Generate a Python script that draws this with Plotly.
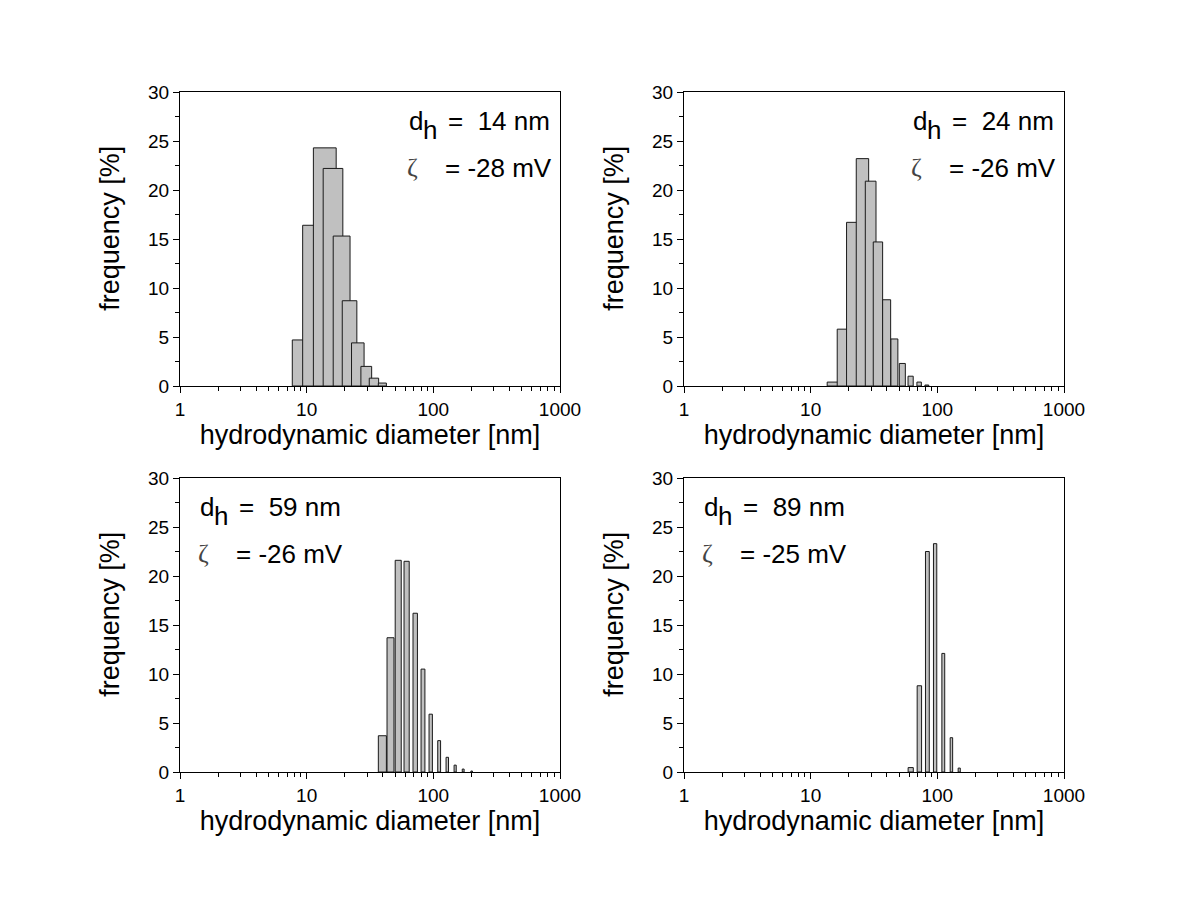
import plotly.graph_objects as go

# ---------------- data ----------------
# bin left edges (nm) and frequency (%) for each sample
d1 = [7.7, 9.3, 11.3, 13.5, 16.2, 19.1, 22.6, 26.8, 31.2, 36.8]
f1 = [4.7, 16.4, 24.3, 22.2, 15.3, 8.7, 4.4, 2.0, 0.8, 0.3]

d2 = [13.5, 16.2, 19.2, 22.9, 27.0, 31.2, 37.0, 43.0, 50.1, 58.7, 69.0, 79.8]
f2 = [0.4, 5.8, 16.7, 23.2, 20.9, 14.7, 8.8, 4.8, 2.3, 1.0, 0.4, 0.1]

d3 = [36.8, 43.1, 50.0, 58.7, 69.1, 80.0, 92.5, 108.3, 126.0, 145.8, 169.2, 197.8]
f3 = [3.7, 13.7, 21.6, 21.5, 16.2, 10.5, 5.9, 3.2, 1.5, 0.7, 0.3, 0.1]

d4 = [58.8, 69.3, 80.6, 93.2, 108.6, 126.3, 146.0]
f4 = [0.45, 8.8, 22.5, 23.3, 12.1, 3.5, 0.4]

bin_width = 5.8  # nm (linear width of each bar)

dh_labels = ["14 nm", "24 nm", "59 nm", "89 nm"]
zeta_labels = ["-28 mV", "-26 mV", "-26 mV", "-25 mV"]

x_title = "hydrodynamic diameter [nm]"
y_title = "frequency [%]"

# ---------------- layout helpers ----------------
W, H = 1200, 920
panels = [
    (180, 560, 92, 386),
    (684, 1064, 92, 386),
    (180, 560, 478, 772),
    (684, 1064, 478, 772),
]
FONT = "Liberation Sans, Arial, sans-serif"

fig = go.Figure()
datasets = [(d1, f1), (d2, f2), (d3, f3), (d4, f4)]

layout = dict(
    width=W, height=H, autosize=False,
    margin=dict(l=0, r=0, t=0, b=0, autoexpand=False),
    paper_bgcolor="white", plot_bgcolor="white",
    showlegend=False,
    font=dict(family=FONT, color="#000", size=19),
    annotations=[],
)

for i, ((d, f), (x0, x1, y0, y1)) in enumerate(zip(datasets, panels)):
    n = i + 1
    xa = "x" if n == 1 else f"x{n}"
    ya = "y" if n == 1 else f"y{n}"
    fig.add_trace(go.Bar(
        x=d, y=f, width=[bin_width] * len(d), offset=0,
        marker=dict(color="#c0c0c0", line=dict(color="#1a1a1a", width=1)),
        xaxis=xa, yaxis=ya, hoverinfo="x+y",
    ))
    xkey = "xaxis" if n == 1 else f"xaxis{n}"
    ykey = "yaxis" if n == 1 else f"yaxis{n}"
    layout[xkey] = dict(
        domain=[x0 / W, x1 / W], anchor=ya, type="log", range=[0, 3],
        tickmode="linear", tick0=0, dtick=1, exponentformat="none",
        ticks="outside", ticklen=6, tickwidth=1, tickcolor="#000",
        minor=dict(ticks="outside", ticklen=4, tickwidth=1, tickcolor="#000"),
        showline=True, linecolor="#000", linewidth=1, mirror=True,
        showgrid=False, zeroline=False, automargin=False,
        tickfont=dict(size=19, family=FONT, color="#000"),
        title=dict(text=x_title, font=dict(size=27, family=FONT, color="#000"), standoff=4),
    )
    layout[ykey] = dict(
        domain=[(H - y1) / H, (H - y0) / H], anchor=xa, range=[0, 30],
        tickmode="linear", tick0=0, dtick=5,
        ticks="outside", ticklen=6, tickwidth=1, tickcolor="#000",
        minor=dict(ticks="outside", ticklen=4, tickwidth=1, tickcolor="#000", dtick=2.5),
        showline=True, linecolor="#000", linewidth=1, mirror=True,
        showgrid=False, zeroline=False, automargin=False,
        tickfont=dict(size=19, family=FONT, color="#000"),
    )
    xr = f"{xa} domain"
    yr = f"{ya} domain"
    # y axis title
    layout["annotations"].append(dict(
        text=y_title, xref=xr, yref=yr, x=-0.184, y=0.535, xanchor="center", yanchor="middle",
        textangle=-90, showarrow=False, font=dict(size=27, family=FONT, color="#000")))
    if n <= 2:
        xd, xh, xe1, xz, xe2 = 0.5966, 0.6334, 0.700, 0.592, 0.692
    else:
        xd, xh, xe1, xz, xe2 = 0.047, 0.084, 0.151, 0.043, 0.143
    ann_font = dict(size=26, family=FONT, color="#000")
    layout["annotations"] += [
        dict(text="d", xref=xr, yref=yr, x=xd, y=0.902, xanchor="left", yanchor="middle",
             showarrow=False, font=ann_font),
        dict(text="h", xref=xr, yref=yr, x=xh, y=0.8694, xanchor="left", yanchor="middle",
             showarrow=False, font=ann_font),
        dict(text="= \u00a0" + dh_labels[i], xref=xr, yref=yr, x=xe1, y=0.902, xanchor="left",
             yanchor="middle", showarrow=False, font=ann_font),
        dict(text="ζ", xref=xr, yref=yr, x=xz, y=0.7425, xanchor="left", yanchor="middle",
             showarrow=False, font=dict(size=26, family="Liberation Serif, serif", color="#444")),
        dict(text="= " + zeta_labels[i], xref=xr, yref=yr, x=xe2, y=0.7425, xanchor="left",
             yanchor="middle", showarrow=False, font=ann_font),
    ]

fig.update_layout(**layout)
fig.write_html("out.html", config={"responsive": False, "displayModeBar": False},
               post_script="document.body.style.margin='0';")
